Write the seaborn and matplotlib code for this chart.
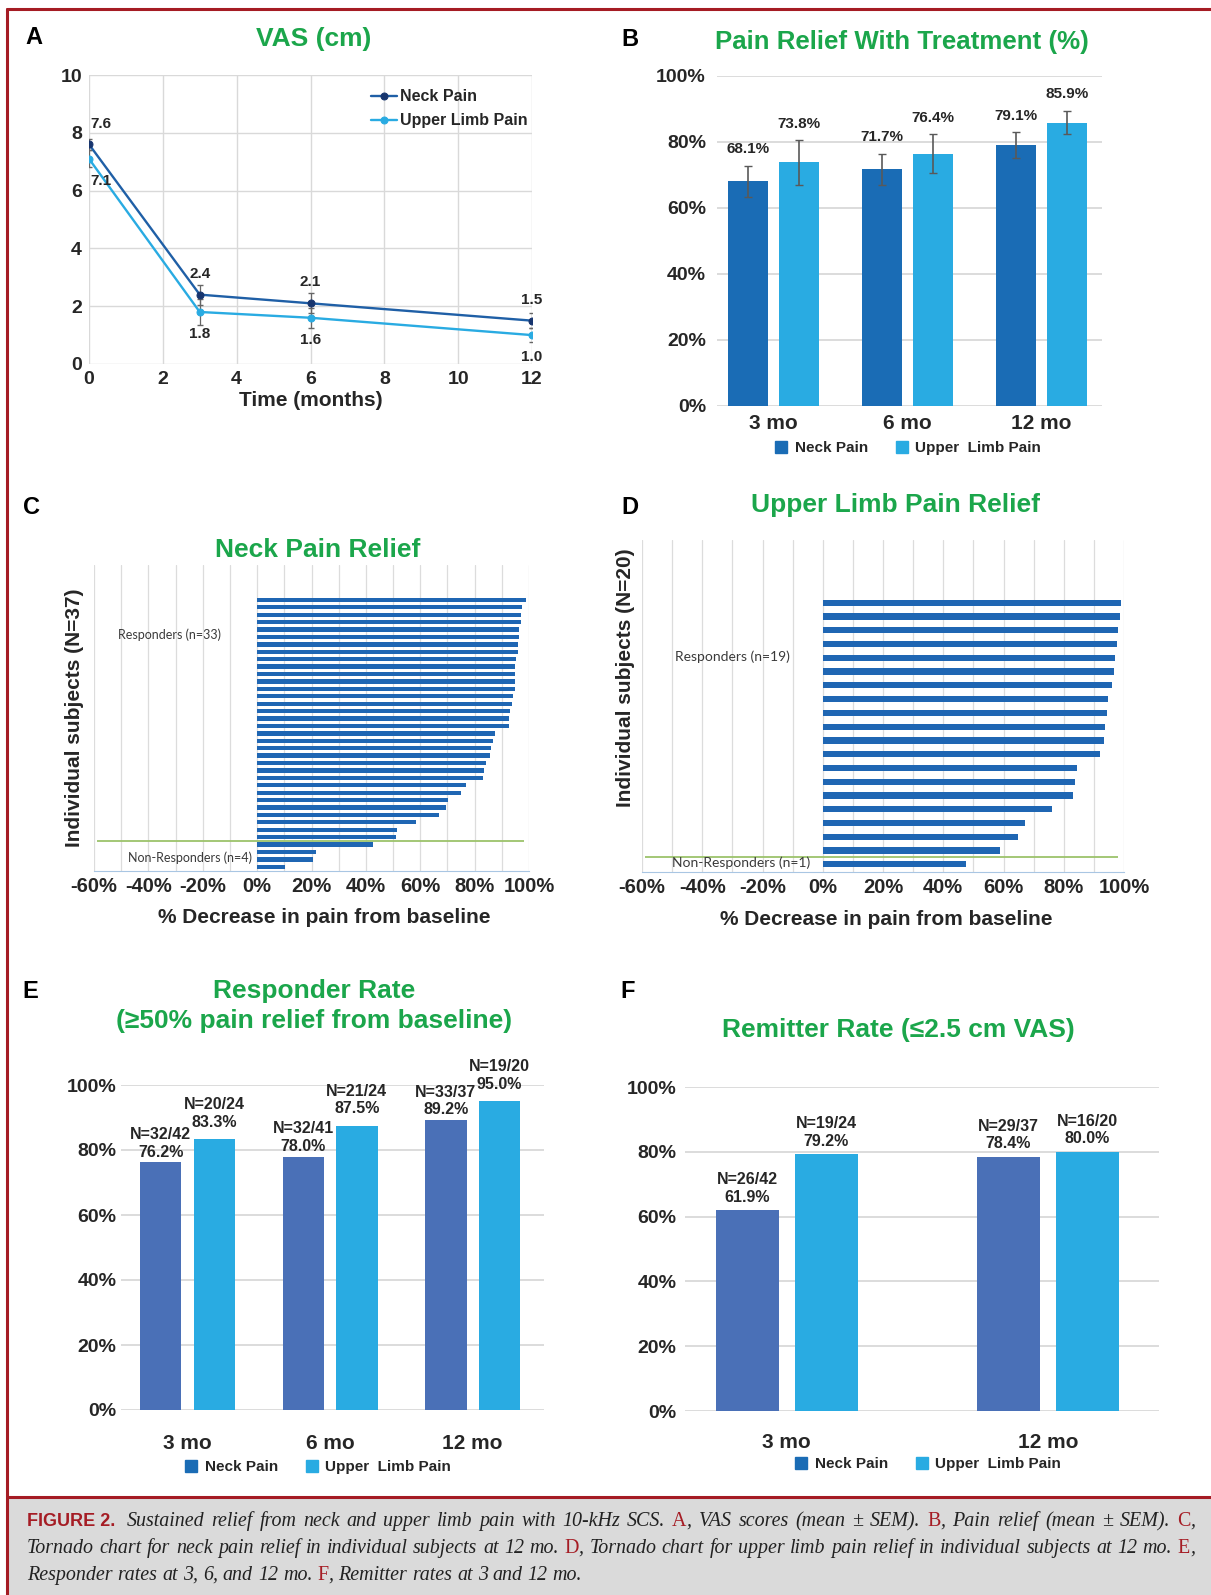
import re
import numpy as np
import pandas as pd
import seaborn as sns
import matplotlib.pyplot as plt
from matplotlib.lines import Line2D
from matplotlib.patches import Rectangle
from matplotlib.ticker import PercentFormatter, MultipleLocator

sns.set_style("white")
plt.rcParams["font.family"] = ["Liberation Sans", "DejaVu Sans"]
plt.rcParams["font.weight"] = "bold"
plt.rcParams["axes.labelweight"] = "bold"
plt.rcParams["axes.unicode_minus"] = False

# ---------------- data ----------------
# A: VAS (cm), mean +/- SEM
vas_months = [0, 3, 6, 12]
vas_neck = [7.6, 2.4, 2.1, 1.5]
vas_neck_sem = [0.2, 0.35, 0.35, 0.25]
vas_limb = [7.1, 1.8, 1.6, 1.0]
vas_limb_sem = [0.3, 0.45, 0.35, 0.25]

# B: pain relief (%), mean +/- SEM
visits = ["3 mo", "6 mo", "12 mo"]
relief_neck = [68.1, 71.7, 79.1]
relief_neck_sem = [4.7, 4.8, 3.9]
relief_limb = [73.8, 76.4, 85.9]
relief_limb_sem = [6.8, 5.9, 3.5]

# C: neck pain relief per subject at 12 mo (top to bottom)
neck_subjects = [98.9, 97.6, 97.2, 96.9, 96.5, 96.2, 96.1, 96.1, 95.4, 94.9,
                 94.9, 94.7, 94.7, 94.0, 93.8, 93.1, 92.7, 92.7, 87.6, 86.8,
                 86.1, 85.7, 84.1, 83.4, 83.0, 76.7, 75.1, 70.3, 69.6, 66.9,
                 58.4, 51.3, 50.9, 42.8, 21.7, 20.5, 10.1]

# D: upper limb pain relief per subject at 12 mo (top to bottom)
limb_subjects = [99.0, 98.6, 98.1, 97.7, 96.9, 96.6, 95.9, 94.6, 94.3, 93.6,
                 93.2, 92.0, 84.3, 83.8, 83.0, 76.0, 67.1, 64.8, 59.0, 47.4]

# E: responder rate
resp_neck = [76.2, 78.0, 89.2]
resp_neck_n = ["32/42", "32/41", "33/37"]
resp_limb = [83.3, 87.5, 95.0]
resp_limb_n = ["20/24", "21/24", "19/20"]

# F: remitter rate
remit_visits = ["3 mo", "12 mo"]
remit_neck = [61.9, 78.4]
remit_neck_n = ["26/42", "29/37"]
remit_limb = [79.2, 80.0]
remit_limb_n = ["19/24", "16/20"]

# ---------------- style ----------------
NECK_B = "#1a6cb5"
NECK_E = "#4a70b7"
LIMB = "#29abe2"
LINE_NECK = "#1f5fa6"
MARK_NECK = "#17356e"
TORNADO = "#1f66b3"
GREEN = "#1ba64b"
RED = "#a51c24"
GRID = "#d9d9d9"

W, H = 1211, 1595
fig = plt.figure(figsize=(W / 100, H / 100), dpi=100)


def pbox(l, t, r, b):
    return [l / W, 1 - b / H, (r - l) / W, (b - t) / H]


def ftext(x, y, s, **kw):
    fig.text(x / W, 1 - y / H, s, ha="center", va="center", **kw)


# frame and caption background
bg = fig.add_axes([0, 0, 1, 1], zorder=-5)
bg.set_xlim(0, W)
bg.set_ylim(H, 0)
bg.axis("off")
bg.add_patch(Rectangle((7, 1497), W - 7, H - 1497, color="#dadada", lw=0))
bg.plot([7, W], [9, 9], color=RED, lw=2.2)
bg.plot([7, 7], [9, H], color=RED, lw=2.2)
bg.plot([7, W], [1497, 1497], color=RED, lw=2.2)

# panel letters and titles
for letter, x, y in [("A", 34, 38), ("B", 630, 39), ("C", 32, 507),
                     ("D", 630, 507), ("E", 30, 992), ("F", 628, 992)]:
    ftext(x, y, letter, fontsize=17, color="black")

ftext(314, 39, "VAS (cm)", fontsize=19, color=GREEN)
ftext(902, 42, "Pain Relief With Treatment (%)", fontsize=18.6, color=GREEN)
ftext(318, 550, "Neck Pain Relief", fontsize=19, color=GREEN)
ftext(895, 505, "Upper Limb Pain Relief", fontsize=19, color=GREEN)
ftext(314, 991, "Responder Rate", fontsize=19, color=GREEN)
ftext(314, 1021, "(\u226550% pain relief from baseline)", fontsize=19, color=GREEN)
ftext(898, 1030, "Remitter Rate (\u22642.5 cm VAS)", fontsize=19, color=GREEN)

# ---------------- A: VAS line chart ----------------
axA = fig.add_axes(pbox(89, 75, 532, 364))
sns.lineplot(x=vas_months, y=vas_neck, color=LINE_NECK, lw=1.7, marker="o",
             markersize=5, markerfacecolor=MARK_NECK, markeredgecolor=MARK_NECK,
             label="Neck Pain", ax=axA)
sns.lineplot(x=vas_months, y=vas_limb, color=LIMB, lw=1.7, marker="o",
             markersize=5, markerfacecolor=LIMB, markeredgecolor=LIMB,
             label="Upper Limb Pain", ax=axA)
axA.errorbar(vas_months, vas_neck, yerr=vas_neck_sem, fmt="none",
             ecolor="#666666", elinewidth=0.9, capsize=2.5, zorder=1)
axA.errorbar(vas_months, vas_limb, yerr=vas_limb_sem, fmt="none",
             ecolor="#666666", elinewidth=0.9, capsize=2.5, zorder=1)
for i, (m, v) in enumerate(zip(vas_months, vas_neck)):
    axA.annotate(f"{v:.1f}", (m, v), xytext=(1 if i == 0 else 0, 15),
                 textcoords="offset points", ha="left" if i == 0 else "center",
                 va="center", fontsize=11)
for i, (m, v) in enumerate(zip(vas_months, vas_limb)):
    axA.annotate(f"{v:.1f}", (m, v), xytext=(1 if i == 0 else 0, -16),
                 textcoords="offset points", ha="left" if i == 0 else "center",
                 va="center", fontsize=11)
axA.set_xlim(0, 12)
axA.set_ylim(0, 10)
axA.set_xticks(range(0, 13, 2))
axA.set_yticks(range(0, 11, 2))
axA.grid(True, color=GRID, lw=1)
for s in axA.spines.values():
    s.set_visible(False)
axA.tick_params(length=0, labelsize=14, pad=5)
axA.set_xlabel("Time (months)", fontsize=15)
axA.xaxis.set_label_coords(0.5, -0.095)
axA.set_ylabel("")
axA.legend(loc="upper left", bbox_to_anchor=(0.605, 1.0), frameon=False,
           fontsize=11.5, handlelength=1.6, handletextpad=0.2, labelspacing=0.55)


# ---------------- bar helpers ----------------
def grouped_bars(ax, cats, neck, limb, neck_color, width, gap):
    df = pd.DataFrame({
        "visit": cats + cats,
        "group": ["Neck Pain"] * len(cats) + ["Upper Limb Pain"] * len(cats),
        "value": neck + limb,
    })
    sns.barplot(data=df, x="visit", y="value", hue="group",
                palette=[neck_color, LIMB], width=width, gap=gap, linewidth=0,
                saturation=1, errorbar=None, legend=False, ax=ax)
    ax.set_ylim(0, 100)
    ax.set_yticks(range(0, 101, 20))
    ax.yaxis.set_major_formatter(PercentFormatter(100, decimals=0))
    ax.grid(axis="y", color=GRID, lw=1.3)
    ax.grid(axis="x", visible=False)
    for s in ax.spines.values():
        s.set_visible(False)
    ax.set_xlabel("")
    ax.set_ylabel("")
    return [[b.get_x() + b.get_width() / 2 for b in c] for c in ax.containers]


def bar_legend(cx, cy, neck_color):
    handles = [Line2D([], [], marker="s", ls="none", color=neck_color, markersize=8),
               Line2D([], [], marker="s", ls="none", color=LIMB, markersize=8)]
    fig.legend(handles, ["Neck Pain", "Upper  Limb Pain"], loc="center",
               bbox_to_anchor=(cx / W, 1 - cy / H), ncol=2, frameon=False,
               fontsize=11, handlelength=0.8, handletextpad=0.5, columnspacing=1.8)


# ---------------- B: pain relief ----------------
axB = fig.add_axes(pbox(717, 76, 1102, 406))
xs = grouped_bars(axB, visits, relief_neck, relief_limb, NECK_B, 0.76, 0.21)
axB.set_xlim(-0.42, 2.45)
for x, vals, errs in [(xs[0], relief_neck, relief_neck_sem),
                      (xs[1], relief_limb, relief_limb_sem)]:
    axB.errorbar(x, vals, yerr=errs, fmt="none", ecolor="#595959",
                 elinewidth=1.2, capsize=3)
    for xi, v, e in zip(x, vals, errs):
        axB.text(xi, v + e + 5, f"{v:.1f}%", ha="center", va="center", fontsize=11)
axB.tick_params(axis="y", length=0, labelsize=14, pad=8)
axB.tick_params(axis="x", length=0, labelsize=15, pad=6)
bar_legend(908, 448, NECK_B)


# ---------------- E: responder rate ----------------
def rate_labels(ax, x, vals, ns, pad):
    for xi, v, n in zip(x, vals, ns):
        ax.annotate(f"N={n}\n{v:.1f}%", (xi, v), xytext=(0, pad),
                    textcoords="offset points", ha="center", va="bottom",
                    fontsize=11.5, linespacing=1.2)


axE = fig.add_axes(pbox(120.5, 1085, 544, 1410))
xs = grouped_bars(axE, visits, resp_neck, resp_limb, NECK_E, 0.752, 0.23)
axE.set_xlim(-0.47, 2.5)
rate_labels(axE, xs[0], resp_neck, resp_neck_n, 2)
rate_labels(axE, xs[1], resp_limb, resp_limb_n, 7)
axE.tick_params(axis="y", length=0, labelsize=14, pad=3)
axE.tick_params(axis="x", length=0, labelsize=15, pad=17)
bar_legend(318, 1467, NECK_B)

# ---------------- F: remitter rate ----------------
axF = fig.add_axes(pbox(685, 1087, 1159, 1411))
xs = grouped_bars(axF, remit_visits, remit_neck, remit_limb, NECK_E, 0.605, 0.207)
axF.set_xlim(-0.39, 1.425)
rate_labels(axF, xs[0], remit_neck, remit_neck_n, 4)
rate_labels(axF, xs[1], remit_limb, remit_limb_n, 4)
axF.tick_params(axis="y", length=0, labelsize=14, pad=6)
axF.tick_params(axis="x", length=0, labelsize=15, pad=16)
bar_legend(928, 1464, NECK_B)


# ---------------- C, D: tornado charts ----------------
def tornado(ax, values, bar_h, top_pad, resp_xy, non_xy, note_size):
    pos = np.arange(len(values))[::-1]
    sns.barplot(x=values, y=pos, orient="y", native_scale=True, color=TORNADO,
                width=bar_h, linewidth=0, saturation=1, errorbar=None, ax=ax)
    n_non = sum(v < 50 for v in values)
    n_resp = len(values) - n_non
    ax.hlines(n_non - 0.5, -59, 98, color="#9cc36b", lw=1.3, zorder=3)
    ax.text(*resp_xy, f"Responders (n={n_resp})", family=["Lato", "DejaVu Sans"],
            weight="normal", fontsize=note_size, color="#3a3a3a", va="center")
    ax.text(*non_xy, f"Non-Responders (n={n_non})", family=["Lato", "DejaVu Sans"],
            weight="normal", fontsize=note_size, color="#3a3a3a", va="center",
            zorder=4)
    ax.set_xlim(-60, 100)
    ax.set_ylim(-0.56, len(values) - 1 + top_pad)
    ax.set_xticks(range(-60, 101, 20))
    ax.xaxis.set_minor_locator(MultipleLocator(10))
    ax.xaxis.set_major_formatter(PercentFormatter(100, decimals=0))
    ax.set_yticks([])
    ax.grid(axis="x", which="both", color="#dcdcdc", lw=0.9)
    ax.grid(axis="y", visible=False)
    for name, s in ax.spines.items():
        s.set_visible(name == "bottom")
    ax.spines["bottom"].set_color("#a9c6e3")
    ax.tick_params(which="both", length=0, labelsize=14.5, pad=4)
    ax.set_xlabel("% Decrease in pain from baseline", fontsize=15)
    ax.set_ylabel(f"Individual subjects (N={len(values)})", fontsize=15)


axC = fig.add_axes(pbox(94, 565, 529, 871))
tornado(axC, neck_subjects, 0.58, 4.7, (-51, 31.3), (-47.5, 1.2), 9)
axC.xaxis.set_label_coords(0.529, -0.121)
axC.yaxis.set_label_coords(-0.023, 0.5)

axD = fig.add_axes(pbox(642, 540, 1124, 872))
tornado(axD, limb_subjects, 0.45, 4.56, (-49, 15.1), (-50, 0.15), 10)
axD.xaxis.set_label_coords(0.506, -0.114)
axD.yaxis.set_label_coords(-0.0145, 0.584)

# ---------------- caption (lines 1-2 justified) ----------------
italic = dict(family=["Liberation Serif", "DejaVu Serif"], style="italic",
              weight="normal", size=14.4, color="#222222")
red_up = dict(family=["Liberation Serif", "DejaVu Serif"], style="normal",
              weight="normal", size=14.4, color=RED)
fig_lbl = dict(family=["Liberation Sans"], weight="bold", size=13, color=RED)

caption = [
    [("FIGURE\u00a02.", fig_lbl),
     ("  Sustained relief from neck and upper limb pain with 10-kHz SCS.", italic),
     (" A", red_up), (", VAS scores (mean \u00b1 SEM).", italic),
     (" B", red_up), (", Pain relief (mean \u00b1 SEM).", italic),
     (" C", red_up), (",", italic)],
    [("Tornado chart for neck pain relief in individual subjects at 12 mo.", italic),
     (" D", red_up),
     (", Tornado chart for upper limb pain relief in individual subjects at 12 mo.", italic),
     (" E", red_up), (",", italic)],
    [("Responder rates at 3, 6, and 12 mo.", italic), (" F", red_up),
     (", Remitter rates at 3 and 12 mo.", italic)],
]
renderer = fig.canvas.get_renderer()


def text_width(s, style):
    t = bg.text(0, 0, s, **style)
    w = t.get_window_extent(renderer=renderer).width
    t.remove()
    return w


x0, x1 = 27, 1195
for line, base, justify in zip(caption, [1526, 1553, 1580], [True, True, False]):
    items = []
    for txt, style in line:
        sp = text_width("x x", style) - text_width("xx", style)
        for tok in re.findall(r" +|[^ ]+", txt):
            if tok.startswith(" "):
                items.append((len(tok) * sp, None))
            else:
                t = bg.text(0, base, tok, ha="left", va="baseline", **style)
                items.append((t.get_window_extent(renderer=renderer).width, t))
    n_gaps = sum(1 for _, t in items if t is None)
    natural = sum(w for w, _ in items)
    extra = (x1 - x0 - natural) / n_gaps if justify else 0
    x = x0
    for w, t in items:
        if t is None:
            x += w + extra
        else:
            t.set_x(x)
            x += w

fig.savefig("out.png", dpi=100)
